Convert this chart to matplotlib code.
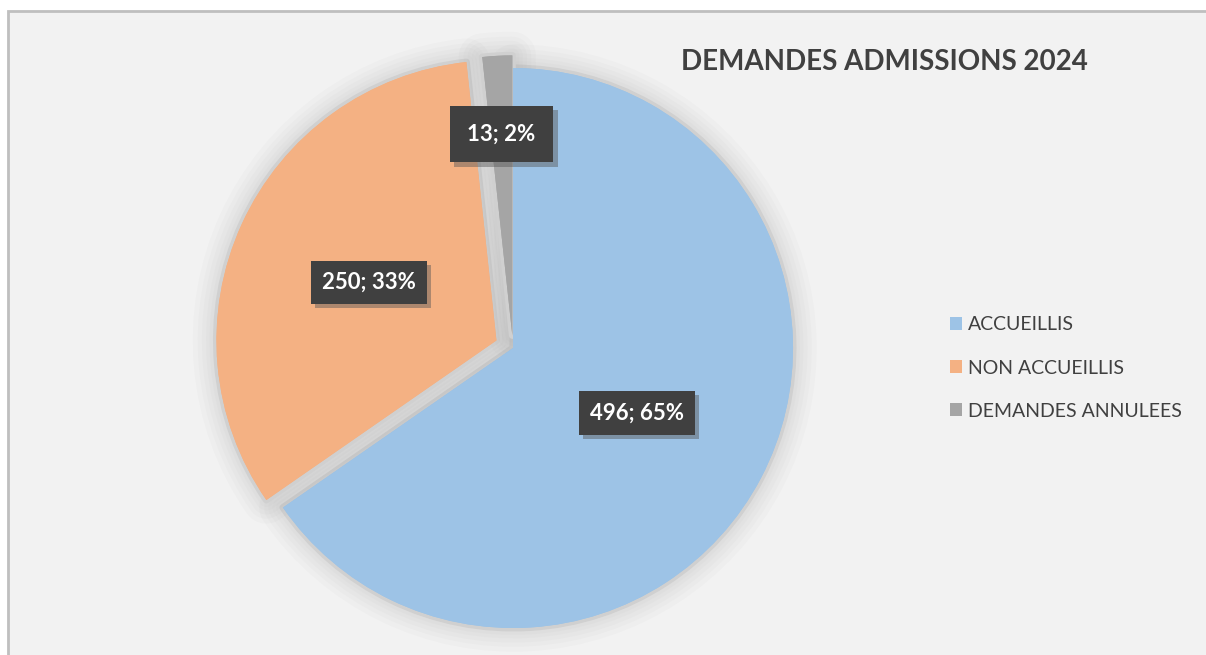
import matplotlib
matplotlib.use("Agg")
import matplotlib.pyplot as plt
import matplotlib.patheffects as pe
from matplotlib.patches import Rectangle, Wedge
import numpy as np

plt.rcParams["font.family"] = ["Lato", "DejaVu Sans"]

TITLE = "DEMANDES ADMISSIONS 2024"
categories = ["ACCUEILLIS", "NON ACCUEILLIS", "DEMANDES ANNULEES"]
values = [496, 250, 13]
percents = [65, 33, 2]
colors = ["#9dc3e6", "#f4b183", "#a5a5a5"]
explode = [0.0, 0.065, 0.045]
label_radius = [0.5, 0.5, 0.72]
label_pad = [0.5, 0.5, 0.8]

W, H, DPI = 1206, 655, 100
R_PX = 280.0
CX, CY = 513.0, 348.0  # pie centre in pixels (from top)

fig = plt.figure(figsize=(W / DPI, H / DPI), dpi=DPI, facecolor="white")
# chart area frame
fig.patches.append(Rectangle((7.5 / W, -0.05), 1.2, 1 - 10.5 / H + 0.05,
                             transform=fig.transFigure, facecolor="#f2f2f2",
                             edgecolor="#bfbfbf", linewidth=2.0, zorder=-5))

ax = fig.add_axes([0, 0, 1, 1])
ax.set_facecolor("none")
ax.axis("off")

wedges, _ = ax.pie(values, colors=colors, explode=explode, startangle=90,
                   counterclock=False, radius=1.0, wedgeprops=dict(linewidth=0))

glow = [pe.Stroke(linewidth=lw, foreground="#9a9a9a", alpha=0.045, joinstyle="round")
        for lw in (34, 27, 21, 15, 10)]
glow.append(pe.Stroke(linewidth=5, foreground="#d0d0d0", joinstyle="round"))
for w in wedges:
    w.set_path_effects(glow + [pe.Normal()])
# draw each wedge again on top so glows don't cover neighbours
for w in wedges:
    ax.add_patch(Wedge(w.center, w.r, w.theta1, w.theta2,
                       facecolor=w.get_facecolor(), linewidth=0, zorder=3))

ax.set_xlim(-CX / R_PX, (W - CX) / R_PX)
ax.set_ylim(-(H - CY) / R_PX, CY / R_PX)
ax.set_aspect("equal")

for w, v, p, r, pad in zip(wedges, values, percents, label_radius, label_pad):
    ang = np.deg2rad((w.theta1 + w.theta2) / 2)
    cx, cy = w.center
    t = ax.text(cx + r * np.cos(ang), cy + r * np.sin(ang), f"{v}; {p}%",
                ha="center", va="center", color="white", fontsize=16,
                fontweight="bold", zorder=6,
                bbox=dict(boxstyle=f"square,pad={pad}", facecolor="#404040",
                          edgecolor="none"))
    t.get_bbox_patch().set_path_effects([
        pe.SimplePatchShadow(offset=(3, -3), shadow_rgbFace="#555555", alpha=0.45),
        pe.Normal()])

fig.text(884 / W, 1 - 62 / H, TITLE, ha="center", va="center",
         fontsize=20, fontweight="bold", color="#404040")

leg = ax.legend(wedges, categories, loc="center left",
                bbox_to_anchor=(942 / W, 1 - 368 / H), bbox_transform=fig.transFigure,
                frameon=False, fontsize=14, handlelength=0.65, handleheight=0.65,
                handletextpad=0.3, labelspacing=1.35, borderaxespad=0)
for txt in leg.get_texts():
    txt.set_color("#404040")
for h in leg.legend_handles:
    h.set_path_effects([pe.Normal()])

fig.savefig("out.png", dpi=DPI, facecolor=fig.get_facecolor())
